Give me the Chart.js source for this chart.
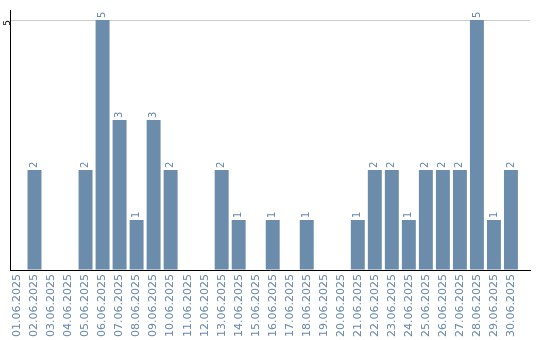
<!DOCTYPE html>
<html>
<head>
<meta charset="utf-8">
<script src="https://cdn.jsdelivr.net/npm/chart.js@4/dist/chart.umd.min.js"></script>
<style>
  body { margin: 0; background: #fff; }
</style>
</head>
<body>
<canvas id="chart" width="540" height="340"></canvas>
<script>
const dates = [
    "01.06.2025", "02.06.2025", "03.06.2025", "04.06.2025", "05.06.2025",
    "06.06.2025", "07.06.2025", "08.06.2025", "09.06.2025", "10.06.2025",
    "11.06.2025", "12.06.2025", "13.06.2025", "14.06.2025", "15.06.2025",
    "16.06.2025", "17.06.2025", "18.06.2025", "19.06.2025", "20.06.2025",
    "21.06.2025", "22.06.2025", "23.06.2025", "24.06.2025", "25.06.2025",
    "26.06.2025", "27.06.2025", "28.06.2025", "29.06.2025", "30.06.2025"
];
const counts = [0, 2, 0, 0, 2, 5, 3, 1, 3, 2, 0, 0, 2, 1, 0, 1, 0, 1, 0, 0, 1, 2, 2, 1, 2, 2, 2, 5, 1, 2];
const yTicks = [5];

const barColor = "#6b8cab";
const textColor = "#6687ac";

// value labels, rotated, above each bar
const valueLabels = {
    id: 'valueLabels',
    afterDatasetsDraw(chart) {
        const ctx = chart.ctx;
        const meta = chart.getDatasetMeta(0);
        ctx.save();
        ctx.font = '10px "DejaVu Sans"';
        ctx.fillStyle = textColor;
        meta.data.forEach((bar, i) => {
            if (!counts[i]) return;
            ctx.save();
            ctx.translate(bar.x, bar.y - 2);
            ctx.rotate(-Math.PI / 2);
            ctx.textAlign = 'left';
            ctx.textBaseline = 'middle';
            ctx.fillText(String(counts[i]), 0, 0);
            ctx.restore();
        });
        ctx.restore();
    }
};

new Chart(document.getElementById("chart"), {
    type: 'bar',
    data: {
        datasets: [{
            data: counts.map((v, i) => ({ x: i, y: v })),
            backgroundColor: barColor,
            categoryPercentage: 1,
            barPercentage: 0.82
        }]
    },
    options: {
        responsive: false,
        animation: false,
        layout: { padding: { top: 10, right: 10, left: 0, bottom: 0 } },
        plugins: {
            legend: { display: false },
            tooltip: { enabled: false }
        },
        scales: {
            x: {
                type: 'linear',
                offset: false,
                min: -0.44,
                max: 30.12,
                afterFit: (scale) => {
                    scale.height = 70;
                    scale.paddingLeft = 0;
                    scale.paddingRight = 0;
                },
                grid: { display: false, drawTicks: false },
                border: { color: '#000', width: 1 },
                ticks: {
                    stepSize: 1,
                    includeBounds: false,
                    autoSkip: false,
                    minRotation: 90,
                    maxRotation: 90,
                    padding: 4,
                    color: textColor,
                    font: { family: 'DejaVu Sans', size: 11 },
                    callback: (v) => dates[v] ?? ''
                }
            },
            y: {
                min: 0,
                max: 5.2,
                afterFit: (scale) => { scale.width = 10; },
                grid: {
                    drawTicks: false,
                    color: (c) => yTicks.includes(c.tick.value) ? '#cccccc' : 'rgba(0,0,0,0)'
                },
                border: { color: '#000', width: 1 },
                ticks: {
                    stepSize: 5,
                    includeBounds: false,
                    minRotation: 90,
                    maxRotation: 90,
                    padding: 2,
                    color: '#000',
                    font: { family: 'DejaVu Sans', size: 9 },
                    callback: (v) => yTicks.includes(v) ? String(v) : ''
                }
            }
        }
    },
    plugins: [valueLabels]
});
</script>
</body>
</html>
